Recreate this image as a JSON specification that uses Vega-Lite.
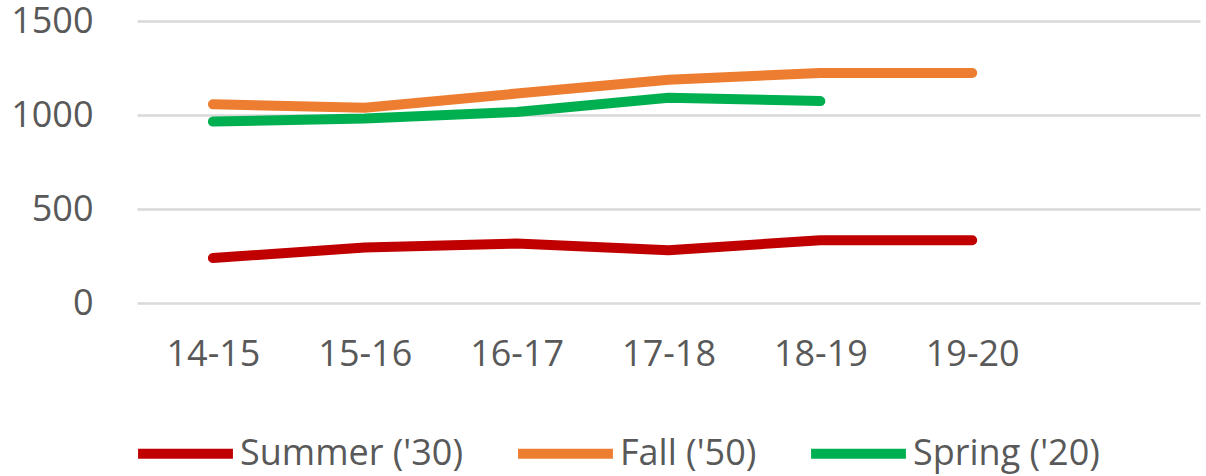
{
  "$schema": "https://vega.github.io/schema/vega-lite/v6.json",
  "width": 1063,
  "height": 282,
  "autosize": "none",
  "padding": {"left": 137, "top": 21, "right": 6, "bottom": 173},
  "background": "white",
  "config": {
    "view": {"stroke": null},
    "font": "Open Sans"
  },
  "data": {
    "values": [
      {"year": "14-15", "series": "Summer ('30)", "value": 239},
      {"year": "15-16", "series": "Summer ('30)", "value": 295},
      {"year": "16-17", "series": "Summer ('30)", "value": 316},
      {"year": "17-18", "series": "Summer ('30)", "value": 280},
      {"year": "18-19", "series": "Summer ('30)", "value": 334},
      {"year": "19-20", "series": "Summer ('30)", "value": 334},
      {"year": "14-15", "series": "Fall ('50)", "value": 1057},
      {"year": "15-16", "series": "Fall ('50)", "value": 1039},
      {"year": "16-17", "series": "Fall ('50)", "value": 1114},
      {"year": "17-18", "series": "Fall ('50)", "value": 1188},
      {"year": "18-19", "series": "Fall ('50)", "value": 1223},
      {"year": "19-20", "series": "Fall ('50)", "value": 1223},
      {"year": "14-15", "series": "Spring ('20)", "value": 965},
      {"year": "15-16", "series": "Spring ('20)", "value": 981},
      {"year": "16-17", "series": "Spring ('20)", "value": 1016},
      {"year": "17-18", "series": "Spring ('20)", "value": 1092},
      {"year": "18-19", "series": "Spring ('20)", "value": 1074}
    ]
  },
  "mark": {"type": "line", "strokeWidth": 10, "strokeCap": "round", "strokeJoin": "round"},
  "encoding": {
    "x": {
      "field": "year",
      "type": "ordinal",
      "scale": {"type": "point", "padding": 0.5, "domain": ["14-15", "15-16", "16-17", "17-18", "18-19", "19-20", " "]},
      "axis": {
        "title": null,
        "labelAngle": 0,
        "labelFontSize": 36,
        "labelColor": "#595959",
        "labelPadding": 34,
        "ticks": false,
        "domain": false,
        "grid": false
      }
    },
    "y": {
      "field": "value",
      "type": "quantitative",
      "scale": {"domain": [0, 1500], "nice": false},
      "axis": {
        "title": null,
        "values": [0, 500, 1000, 1500],
        "format": "d",
        "labelFontSize": 36,
        "labelColor": "#595959",
        "labelPadding": 44,
        "ticks": false,
        "domain": false,
        "grid": true,
        "gridColor": "#D9D9D9",
        "gridWidth": 2.5
      }
    },
    "color": {
      "field": "series",
      "type": "nominal",
      "scale": {
        "domain": ["Summer ('30)", "Fall ('50)", "Spring ('20)"],
        "range": ["#C00000", "#ED7D31", "#00B050"]
      },
      "legend": {
        "title": null,
        "orient": "none",
        "direction": "horizontal",
        "legendX": -4,
        "legendY": 380,
        "labelFontSize": 36,
        "labelColor": "#595959",
        "labelOffset": 2,
        "symbolType": "stroke",
        "symbolSize": 9000,
        "symbolStrokeWidth": 10,
        "columnPadding": 34,
        "labelLimit": 400
      }
    }
  }
}
